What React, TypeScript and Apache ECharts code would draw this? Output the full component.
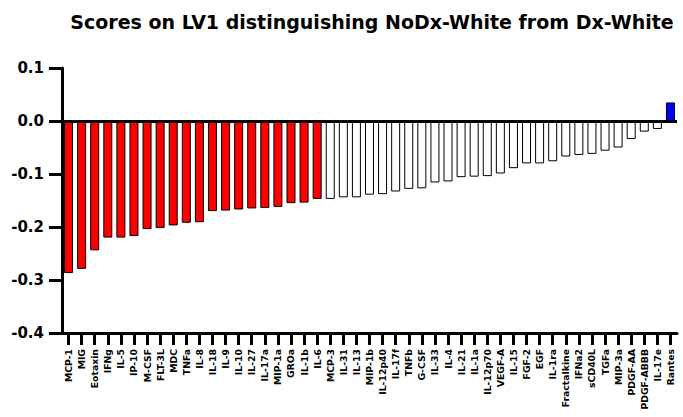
import React, { useEffect, useRef } from "react";
import * as echarts from "echarts";

const titleText = "Scores on LV1 distinguishing NoDx-White from Dx-White";

const categories = [
  "MCP-1", "MIG", "Eotaxin", "IFNg", "IL-5", "IP-10", "M-CSF", "FLT-3L", "MDC", "TNFa",
  "IL-8", "IL-18", "IL-9", "IL-10", "IL-27", "IL-17a", "MIP-1a", "GROa", "IL-1b", "IL-6",
  "MCP-3", "IL-31", "IL-13", "MIP-1b", "IL-12p40", "IL-17f", "TNFb", "G-CSF", "IL-33", "IL-4",
  "IL-21", "IL-1a", "IL-12p70", "VEGF-A", "IL-15", "FGF-2", "EGF", "IL-1ra", "Fractalkine", "IFNa2",
  "sCD40L", "TGFa", "MIP-3a", "PDGF-AA", "PDGF-ABBB", "IL-17e", "Rantes",
];

const scores = [
  -0.287, -0.279, -0.244, -0.22, -0.22, -0.217, -0.204, -0.202, -0.197, -0.192,
  -0.191, -0.17, -0.169, -0.167, -0.165, -0.164, -0.162, -0.155, -0.154, -0.147,
  -0.147, -0.144, -0.144, -0.139, -0.138, -0.133, -0.128, -0.127, -0.116, -0.114,
  -0.106, -0.105, -0.104, -0.099, -0.089, -0.08, -0.08, -0.076, -0.067, -0.064,
  -0.062, -0.056, -0.05, -0.034, -0.02, -0.015, 0.035,
];

// group of each bar: "neg" = significant negative, "ns" = not significant, "pos" = significant positive
const groups = [
  "neg", "neg", "neg", "neg", "neg", "neg", "neg", "neg", "neg", "neg",
  "neg", "neg", "neg", "neg", "neg", "neg", "neg", "neg", "neg", "neg",
  "ns", "ns", "ns", "ns", "ns", "ns", "ns", "ns", "ns", "ns",
  "ns", "ns", "ns", "ns", "ns", "ns", "ns", "ns", "ns", "ns",
  "ns", "ns", "ns", "ns", "ns", "ns", "pos",
];

const yTicks = { min: -0.4, max: 0.1, interval: 0.1 };

const groupColors: Record<string, string> = {
  neg: "#ff0000",
  ns: "#ffffff",
  pos: "#0000ff",
};

const FONT = "'DejaVu Sans', 'Liberation Sans', Arial, sans-serif";

export default function App() {
  const ref = useRef<HTMLDivElement>(null);

  useEffect(() => {
    if (!ref.current) return;
    const chart = echarts.init(ref.current, null, { renderer: "svg" });
    chart.setOption({
      animation: false,
      backgroundColor: "#ffffff",
      graphic: [
        {
          type: "text",
          x: 372,
          y: 22,
          style: {
            text: titleText,
            font: `bold 19px ${FONT}`,
            fill: "#000",
            textAlign: "center",
            textVerticalAlign: "middle",
          },
        },
      ],
      grid: { left: 62, right: 6, top: 68, bottom: 84 },
      xAxis: {
        type: "category",
        data: categories,
        boundaryGap: true,
        axisLine: { show: true, onZero: false, lineStyle: { color: "#000", width: 3 } },
        axisTick: { show: true, alignWithLabel: true, length: 12, lineStyle: { color: "#000", width: 3 } },
        axisLabel: {
          interval: 0,
          rotate: 90,
          margin: 16,
          color: "#000",
          fontFamily: FONT,
          fontWeight: "bold",
          fontSize: 9.3,
        },
        splitLine: { show: false },
      },
      yAxis: {
        type: "value",
        min: yTicks.min,
        max: yTicks.max,
        interval: yTicks.interval,
        axisLine: { show: true, lineStyle: { color: "#000", width: 3 } },
        axisTick: { show: true, length: 13, lineStyle: { color: "#000", width: 3 } },
        axisLabel: {
          margin: 18,
          color: "#000",
          fontFamily: FONT,
          fontWeight: "bold",
          fontSize: 15,
          formatter: (v: number) => v.toFixed(1),
        },
        splitLine: { show: false },
      },
      series: [
        {
          type: "bar",
          barWidth: 9,
          data: scores.map((v, i) => ({
            value: v,
            itemStyle: { color: groupColors[groups[i]], borderColor: "#000", borderWidth: 1 },
          })),
          markLine: {
            silent: true,
            symbol: "none",
            label: { show: false },
            lineStyle: { color: "#000", width: 3, type: "solid" },
            data: [{ yAxis: 0 }],
          },
        },
      ],
    });
    return () => chart.dispose();
  }, []);

  return (
    <div
      ref={ref}
      style={{ position: "fixed", left: 0, top: 0, width: 683, height: 417, background: "#fff" }}
    />
  );
}
